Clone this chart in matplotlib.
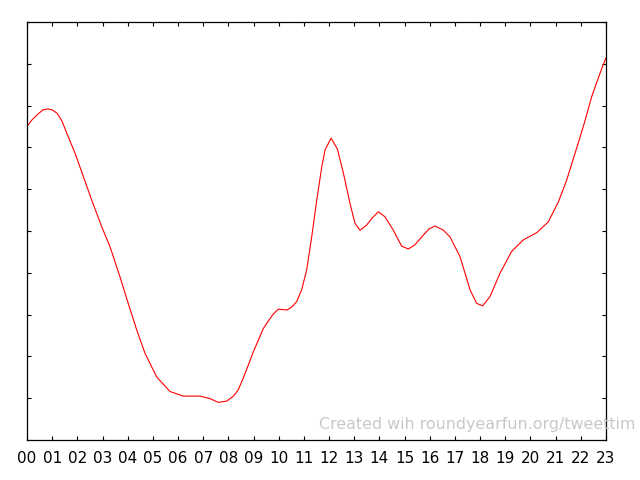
import matplotlib
matplotlib.use('Agg')
import matplotlib.pyplot as plt

# 시간대 (시 단위)
hours = [0.01, 0.20, 0.44, 0.64, 0.83, 0.99, 1.19, 1.39, 1.58, 1.91,
         2.24, 2.57, 2.97, 3.30, 3.69, 4.02, 4.36, 4.69, 5.15, 5.68,
         6.21, 6.87, 7.27, 7.60, 7.93, 8.20, 8.39, 8.59, 8.79, 8.99,
         9.19, 9.39, 9.59, 9.78, 9.98, 10.32, 10.52, 10.71, 10.91, 11.11,
         11.31, 11.51, 11.71, 11.84, 12.08, 12.33, 12.57, 12.83, 13.03, 13.23,
         13.49, 13.71, 13.96, 14.22, 14.55, 14.88, 15.15, 15.41, 15.74, 15.97,
         16.21, 16.54, 16.80, 17.20, 17.40, 17.60, 17.86, 18.10, 18.39, 18.79,
         19.25, 19.72, 20.25, 20.71, 21.11, 21.44, 21.77, 22.10, 22.43, 22.76,
         22.99]

# 활동량 (상대값)
activity = [7.51, 7.66, 7.80, 7.90, 7.92, 7.90, 7.82, 7.63, 7.34, 6.86,
            6.30, 5.74, 5.10, 4.62, 3.91, 3.27, 2.63, 2.07, 1.51, 1.16,
            1.05, 1.05, 0.99, 0.90, 0.93, 1.05, 1.20, 1.48, 1.79, 2.11,
            2.39, 2.67, 2.85, 3.01, 3.13, 3.11, 3.18, 3.31, 3.59, 4.07,
            4.86, 5.74, 6.54, 6.94, 7.22, 6.96, 6.38, 5.66, 5.18, 5.02,
            5.14, 5.31, 5.46, 5.34, 5.02, 4.64, 4.57, 4.67, 4.90, 5.05,
            5.12, 5.02, 4.86, 4.39, 3.99, 3.59, 3.27, 3.21, 3.43, 3.99,
            4.51, 4.79, 4.96, 5.22, 5.70, 6.22, 6.86, 7.50, 8.21, 8.77,
            9.13]

tick_labels = ['%02d' % h for h in range(24)]

fig = plt.figure(figsize=(6.4, 4.8), dpi=100)
ax = fig.add_axes([27 / 640, 40 / 480, 579 / 640, 418 / 480])

ax.plot(hours, activity, color='red', linewidth=0.8)

ax.set_xlim(0, 23)
ax.set_ylim(0, 10)
ax.set_xticks(range(24))
ax.set_xticklabels(tick_labels, fontsize=11)
ax.set_yticks(range(11))
ax.set_yticklabels([])
ax.tick_params(direction='in', length=3, width=0.8, top=True, right=True, pad=8)
for sp in ax.spines.values():
    sp.set_linewidth(0.9)

# 워터마크 (원본처럼 오른쪽 끝까지 닿는 문구)
fig.text(319 / 640, 1 - 425 / 480, 'Created wih roundyearfun.org/tweettim',
         color='#c8c8c8', fontsize=11.4, ha='left', va='center')

fig.savefig('out.png', dpi=100)
